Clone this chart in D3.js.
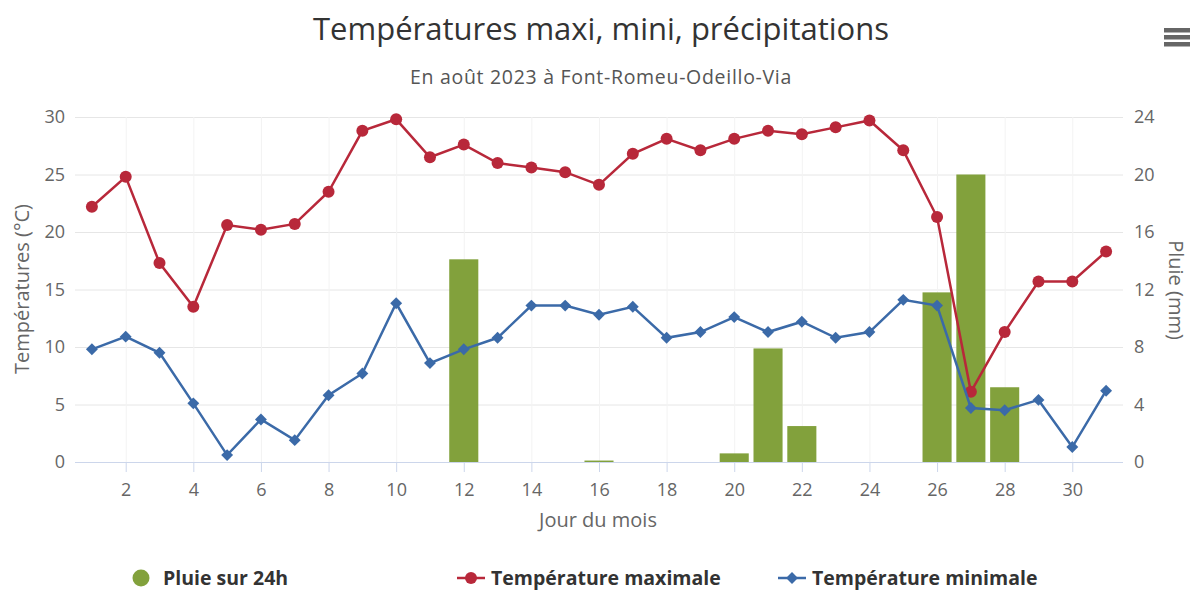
<!DOCTYPE html>
<html>
<head>
<meta charset="utf-8">
<script src="https://cdn.jsdelivr.net/npm/d3@7"></script>
<style>
  body { margin: 0; background: #fff; }
  svg { display: block; font-family: "Open Sans", sans-serif; }
</style>
</head>
<body>
<div id="chart"></div>
<script>
// data
const days = d3.range(1, 32);
const tMax = [22.2, 24.8, 17.3, 13.5, 20.6, 20.2, 20.7, 23.5, 28.8, 29.8,
              26.5, 27.6, 26.0, 25.6, 25.2, 24.1, 26.8, 28.1, 27.1, 28.1,
              28.8, 28.5, 29.1, 29.7, 27.1, 21.3, 6.1, 11.3, 15.7, 15.7, 18.3];
const tMin = [9.8, 10.9, 9.5, 5.1, 0.6, 3.7, 1.9, 5.8, 7.7, 13.8,
              8.6, 9.8, 10.8, 13.6, 13.6, 12.8, 13.5, 10.8, 11.3, 12.6,
              11.3, 12.2, 10.8, 11.3, 14.1, 13.6, 4.7, 4.5, 5.4, 1.3, 6.2];
const rain = [0, 0, 0, 0, 0, 0, 0, 0, 0, 0,
              0, 14.1, 0, 0, 0, 0.1, 0, 0, 0, 0.6,
              7.9, 2.5, 0, 0, 0, 11.8, 20.0, 5.2, 0, 0, 0];
const xTicks = d3.range(2, 31, 2);
const tempTicks = [0, 5, 10, 15, 20, 25, 30];
const rainTicks = [0, 4, 8, 12, 16, 20, 24];

const colors = { rain: "#82a13c", max: "#b8283a", min: "#3b6aa8" };

const width = 1194, height = 593;
const plot = { left: 75, right: 1123, top: 117, bottom: 462 };

const svg = d3.select("#chart").append("svg")
    .attr("width", width)
    .attr("height", height);

svg.append("rect").attr("width", width).attr("height", height).attr("fill", "#fff");

const x = d3.scaleLinear().domain([0.5, 31.5]).range([plot.left, plot.right]);
const yT = d3.scaleLinear().domain([0, 30]).range([plot.bottom, plot.top]);
const yR = d3.scaleLinear().domain([0, 24]).range([plot.bottom, plot.top]);

// title + subtitle
svg.append("text")
    .attr("x", 601).attr("y", 40)
    .attr("text-anchor", "middle")
    .attr("font-size", "31px")
    .attr("fill", "#333")
    .text("Températures maxi, mini, précipitations");
svg.append("text")
    .attr("x", 601).attr("y", 84)
    .attr("text-anchor", "middle")
    .attr("font-size", "19.5px")
    .attr("letter-spacing", "0.7px")
    .attr("fill", "#555")
    .text("En août 2023 à Font-Romeu-Odeillo-Via");

// menu icon
svg.append("g").selectAll("rect")
    .data([0, 1, 2]).enter()
    .append("rect")
    .attr("x", 1164).attr("y", d => 28 + d * 7)
    .attr("width", 26).attr("height", 4.5)
    .attr("fill", "#666");

// grid
svg.append("g")
    .attr("transform", `translate(${plot.left},0)`)
    .call(d3.axisLeft(yT).tickValues(tempTicks).tickSize(-(plot.right - plot.left)).tickFormat(""))
    .call(g => g.select(".domain").remove())
    .call(g => g.selectAll("line").attr("stroke", "#e6e6e6"));
svg.append("g")
    .attr("transform", `translate(0,${plot.bottom})`)
    .call(d3.axisBottom(x).tickValues(xTicks).tickSize(-(plot.bottom - plot.top)).tickFormat(""))
    .call(g => g.select(".domain").remove())
    .call(g => g.selectAll("line").attr("stroke", "#f3f3f3"));

const tickFont = g => g.selectAll("text")
    .attr("font-size", "18px").attr("fill", "#666").attr("font-family", "Open Sans");

// x axis
svg.append("g")
    .attr("transform", `translate(0,${plot.bottom})`)
    .call(d3.axisBottom(x).tickValues(xTicks).tickSize(10).tickPadding(11))
    .call(g => g.select(".domain").attr("stroke", "#ccd6eb").attr("d", `M${plot.left},0.5H${plot.right}`))
    .call(g => g.selectAll("line").attr("stroke", "#ccd6eb"))
    .call(tickFont);

// left y axis labels
svg.append("g")
    .attr("transform", `translate(${plot.left},0)`)
    .call(d3.axisLeft(yT).tickValues(tempTicks).tickSize(0).tickPadding(10))
    .call(g => g.select(".domain").remove())
    .call(tickFont);

// right y axis labels
svg.append("g")
    .attr("transform", `translate(${plot.right},0)`)
    .call(d3.axisRight(yR).tickValues(rainTicks).tickSize(0).tickPadding(11))
    .call(g => g.select(".domain").remove())
    .call(tickFont);

// axis titles
svg.append("text")
    .attr("transform", "translate(29,289) rotate(-90)")
    .attr("text-anchor", "middle")
    .attr("font-size", "20px").attr("fill", "#666")
    .text("Températures (°C)");
svg.append("text")
    .attr("transform", "translate(1169,290) rotate(90)")
    .attr("text-anchor", "middle")
    .attr("font-size", "20px").attr("fill", "#666")
    .text("Pluie (mm)");
svg.append("text")
    .attr("x", 598).attr("y", 527)
    .attr("text-anchor", "middle")
    .attr("font-size", "20px").attr("fill", "#666")
    .text("Jour du mois");

// rain bars
const step = x(2) - x(1);
const barW = step * 0.86;
svg.append("g").selectAll("rect")
    .data(days.map((d, i) => ({ day: d, v: rain[i] })).filter(d => d.v > 0))
    .enter().append("rect")
    .attr("x", d => x(d.day) - barW / 2)
    .attr("y", d => yR(d.v))
    .attr("width", barW)
    .attr("height", d => Math.max(1, plot.bottom - yR(d.v)))
    .attr("fill", colors.rain);

// temperature lines
const line = d3.line().x((d, i) => x(days[i])).y(d => yT(d));

svg.append("path")
    .attr("d", line(tMax))
    .attr("fill", "none")
    .attr("stroke", colors.max)
    .attr("stroke-width", 2.5);
svg.append("g").selectAll("circle")
    .data(tMax).enter()
    .append("circle")
    .attr("cx", (d, i) => x(days[i]))
    .attr("cy", d => yT(d))
    .attr("r", 6)
    .attr("fill", colors.max);

const diamond = d3.symbol().type(d3.symbolDiamond2).size(90);
svg.append("path")
    .attr("d", line(tMin))
    .attr("fill", "none")
    .attr("stroke", colors.min)
    .attr("stroke-width", 2.5);
svg.append("g").selectAll("path")
    .data(tMin).enter()
    .append("path")
    .attr("d", diamond)
    .attr("transform", (d, i) => `translate(${x(days[i])},${yT(d)})`)
    .attr("fill", colors.min);

// legend
const legend = svg.append("g").attr("font-size", "19.5px").attr("font-weight", "bold").attr("fill", "#333");
legend.append("circle").attr("cx", 141).attr("cy", 578).attr("r", 8.5).attr("fill", colors.rain);
legend.append("text").attr("x", 163).attr("y", 585).text("Pluie sur 24h");

legend.append("line").attr("x1", 457).attr("x2", 485).attr("y1", 578).attr("y2", 578)
    .attr("stroke", colors.max).attr("stroke-width", 2.5);
legend.append("circle").attr("cx", 471).attr("cy", 578).attr("r", 6).attr("fill", colors.max);
legend.append("text").attr("x", 491).attr("y", 585).text("Température maximale");

legend.append("line").attr("x1", 778).attr("x2", 806).attr("y1", 578).attr("y2", 578)
    .attr("stroke", colors.min).attr("stroke-width", 2.5);
legend.append("path").attr("d", diamond).attr("transform", "translate(792,578)").attr("fill", colors.min);
legend.append("text").attr("x", 812).attr("y", 585).text("Température minimale");
</script>
</body>
</html>
